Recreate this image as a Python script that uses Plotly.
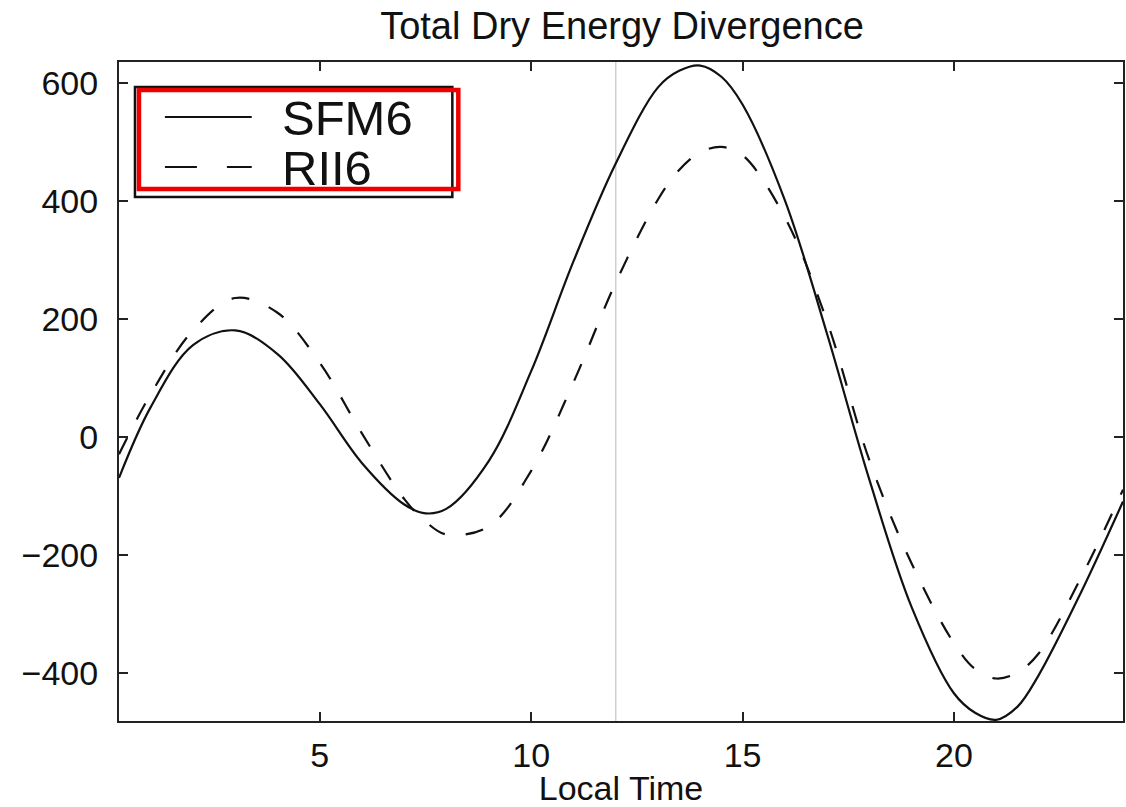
import plotly.graph_objects as go

# ---- data ----
hours = [0.25, 1, 2, 3, 4, 5, 6, 7, 7.5, 8, 9, 10, 11, 12, 13, 13.5, 14, 14.5, 15,
         16, 17, 18, 19, 20, 20.5, 21, 21.5, 22, 23, 24]
sfm6 = [-70, 50, 155, 180, 140, 55, -45, -115, -130, -122, -41, 111, 297, 463, 592, 620, 629, 610, 563,
        401, 174, -73, -289, -435, -468, -480, -458, -405, -265, -110]
rii6 = [-30, 72, 180, 235, 210, 125, 5, -106, -144, -166, -152, -58, 92, 261, 402, 452, 482, 491, 477,
        372, 195, -40, -215, -350, -394, -410, -400, -368, -240, -90]
x_ticks = [5, 10, 15, 20]
y_ticks = [-400, -200, 0, 200, 400, 600]
x_range = [0.25, 24]
y_range = [-482, 635]
noon = 12

W, H = 1126, 807
L, R, T, B = 119, 1, 62, 86
FONT = "Liberation Sans, Arial, Helvetica, sans-serif"


def px_x(p):
    return (p - L) / (W - L - R)


def px_y(p):
    return (H - B - p) / (H - T - B)


fig = go.Figure()
fig.add_trace(go.Scatter(x=hours, y=sfm6, mode="lines", name="SFM6",
                         line=dict(color="#111111", width=2.2, shape="spline", smoothing=1.0),
                         showlegend=False))
fig.add_trace(go.Scatter(x=hours, y=rii6, mode="lines", name="RII6",
                         line=dict(color="#111111", width=2.2, dash="18px,21px", shape="spline", smoothing=1.0),
                         showlegend=False))

shapes = []
# faint vertical line at local noon
shapes.append(dict(type="line", xref="x", yref="paper", x0=noon, x1=noon, y0=0, y1=1,
                   line=dict(color="#cfcfcf", width=1.5), layer="below"))
# legend box
shapes.append(dict(type="rect", xref="paper", yref="paper",
                   x0=px_x(135), x1=px_x(453), y0=px_y(197), y1=px_y(87),
                   line=dict(color="#111111", width=2.5), fillcolor="white", layer="above"))
# legend samples
shapes.append(dict(type="line", xref="paper", yref="paper",
                   x0=px_x(165), x1=px_x(252), y0=px_y(117), y1=px_y(117),
                   line=dict(color="#111111", width=2.2)))
shapes.append(dict(type="line", xref="paper", yref="paper",
                   x0=px_x(165), x1=px_x(252), y0=px_y(167), y1=px_y(167),
                   line=dict(color="#111111", width=2.2, dash="32px,30px")))
# red highlight rectangle
shapes.append(dict(type="rect", xref="paper", yref="paper",
                   x0=px_x(139), x1=px_x(459), y0=px_y(189), y1=px_y(90),
                   line=dict(color="#ee0000", width=4.5)))

annotations = [
    dict(text="SFM6", xref="paper", yref="paper", x=px_x(280), y=px_y(118),
         xanchor="left", yanchor="middle", showarrow=False,
         font=dict(family=FONT, size=49, color="#111111")),
    dict(text="RII6", xref="paper", yref="paper", x=px_x(280), y=px_y(168),
         xanchor="left", yanchor="middle", showarrow=False,
         font=dict(family=FONT, size=49, color="#111111")),
]

fig.update_layout(
    width=W, height=H,
    margin=dict(l=L, r=R, t=T, b=B),
    paper_bgcolor="white", plot_bgcolor="white",
    font=dict(family=FONT, color="#111111", size=33),
    title=dict(text="Total Dry Energy Divergence", x=(L + (W - L - R) / 2) / W,
               xanchor="center", y=1 - 26 / H, yanchor="middle",
               font=dict(family=FONT, size=38, color="#111111")),
    shapes=shapes,
    annotations=annotations,
    showlegend=False,
)
fig.update_xaxes(range=x_range, tickvals=x_ticks, ticks="inside", ticklen=9, tickwidth=1.5,
                 tickcolor="#222222", showline=True, linecolor="#222222", linewidth=2,
                 mirror="ticks", showgrid=False, zeroline=False, ticklabelstandoff=3,
                 tickfont=dict(size=34),
                 title=dict(text="Local Time", font=dict(size=34), standoff=4))
fig.update_yaxes(range=y_range, tickvals=y_ticks, ticks="inside", ticklen=9, tickwidth=1.5,
                 tickcolor="#222222", showline=True, linecolor="#222222", linewidth=2,
                 mirror="ticks", showgrid=False, zeroline=False, ticklabelstandoff=12,
                 tickfont=dict(size=34))

fig.write_html("out.html")
